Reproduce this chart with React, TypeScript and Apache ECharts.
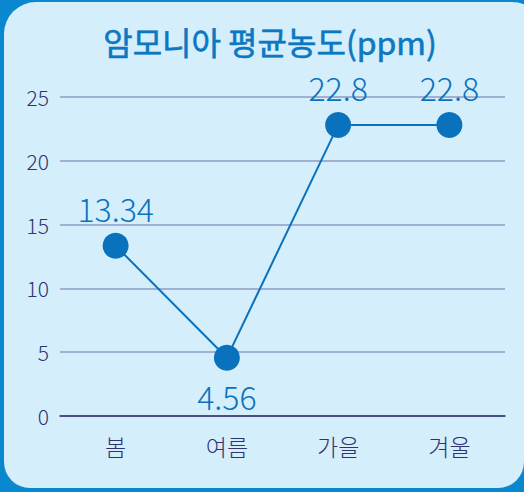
import React, { useEffect, useRef } from "react";
import * as echarts from "echarts";

const title = "암모니아 평균농도(ppm)";
const categories = ["봄", "여름", "가을", "겨울"];
const values = [13.34, 4.56, 22.8, 22.8];
const labelPositions = ["top", "bottom", "top", "top"];
const yTicks = { min: 0, max: 25, interval: 5 };

const FONT = "'Noto Sans CJK KR', 'Noto Sans', sans-serif";

export default function App() {
  const ref = useRef<HTMLDivElement>(null);
  useEffect(() => {
    if (!ref.current) return;
    const chart = echarts.init(ref.current, null, { renderer: "svg" });
    chart.setOption({
      animation: false,
      backgroundColor: "transparent",
      title: {
        text: title,
        left: 265,
        textAlign: "center",
        top: 20,
        textStyle: {
          color: "#0b78c1",
          fontSize: 32,
          fontWeight: "normal",
          fontFamily: FONT,
          textBorderColor: "#0b78c1",
          textBorderWidth: 0.6,
        },
      },
      grid: { left: 60, right: 19, top: 97, bottom: 76 },
      xAxis: {
        type: "category",
        data: categories,
        boundaryGap: true,
        axisLine: { show: true, lineStyle: { color: "#2b2f6c", width: 1.5 } },
        axisTick: { show: false },
        axisLabel: { color: "#2e3470", fontSize: 23, fontWeight: 300, fontFamily: FONT, margin: 18 },
      },
      yAxis: {
        type: "value",
        min: yTicks.min,
        max: yTicks.max,
        interval: yTicks.interval,
        axisLine: { show: false },
        axisTick: { show: false },
        axisLabel: { color: "#2e3470", fontSize: 21, fontWeight: 300, fontFamily: FONT, margin: 11 },
        splitLine: { lineStyle: { color: "#8c9bc4", width: 1.5 } },
      },
      series: [
        {
          type: "line",
          data: values.map((v, i) => ({
            value: v,
            label: { position: labelPositions[i] },
          })),
          symbol: "circle",
          symbolSize: 26,
          itemStyle: { color: "#0a72bd" },
          lineStyle: { color: "#0a72bd", width: 2 },
          label: {
            show: true,
            distance: 9,
            color: "#0a72bd",
            fontSize: 32,
            fontWeight: 300,
            fontFamily: FONT,
            formatter: (p: any) => String(p.value),
          },
        },
      ],
    });
    return () => chart.dispose();
  }, []);

  return (
    <div
      style={{
        position: "fixed",
        left: 0,
        top: 0,
        width: 524,
        height: 492,
        background: "#0a88cf",
        overflow: "hidden",
      }}
    >
      <div
        style={{
          position: "absolute",
          left: 4,
          top: 2,
          width: 540,
          height: 486,
          background: "#d5eefc",
          borderRadius: "32px 32px 26px 26px",
        }}
      />
      <div
        style={{
          position: "absolute",
          right: 0,
          bottom: 0,
          width: 30,
          height: 30,
          background: "#0a88cf",
        }}
      />
      <div
        style={{
          position: "absolute",
          right: 0,
          bottom: 4,
          width: 30,
          height: 30,
          background: "#d5eefc",
          borderBottomRightRadius: 26,
        }}
      />
      <div ref={ref} style={{ position: "absolute", left: 0, top: 0, width: 524, height: 492 }} />
    </div>
  );
}
